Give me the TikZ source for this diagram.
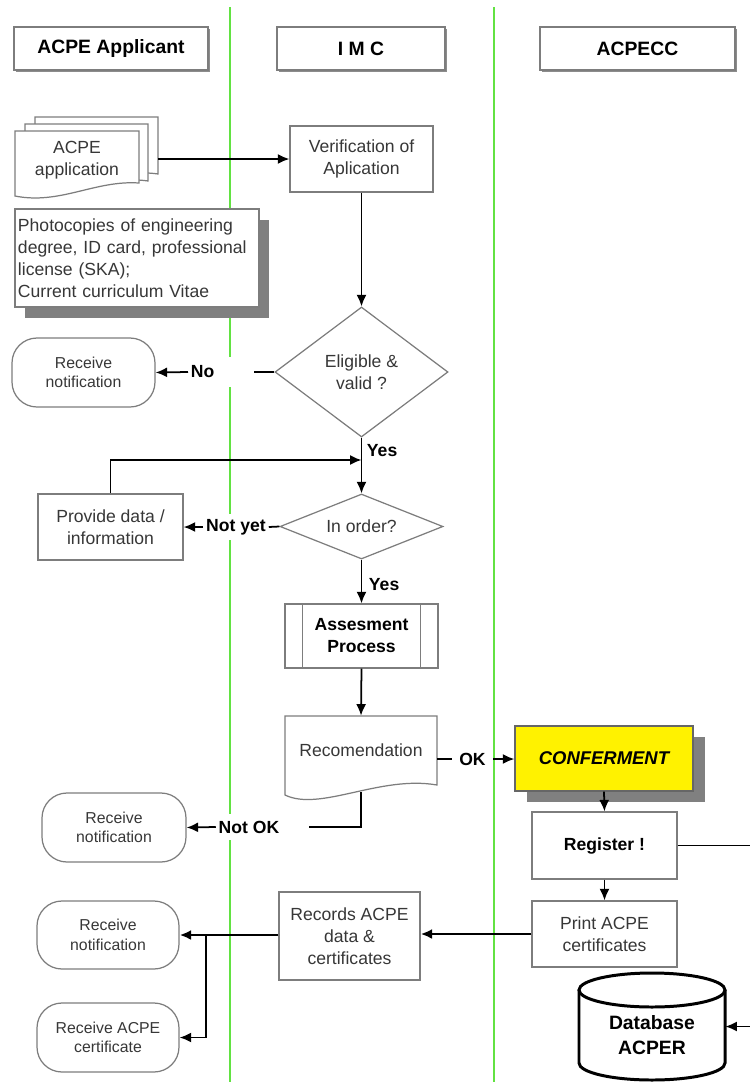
\documentclass[tikz,border=0pt]{standalone}
\usepackage{fontspec}
\setmainfont{Liberation Sans}
\usetikzlibrary{arrows.meta,shapes.geometric,shadows}

\definecolor{lanegreen}{RGB}{98,226,66}
\definecolor{edge}{RGB}{125,125,125}
\definecolor{ink}{RGB}{55,55,55}
\definecolor{shade}{RGB}{128,128,128}

\tikzset{
  sz/.style 2 args={minimum width=#1*0.2mm, minimum height=#2*0.2mm},
  base/.style={inner sep=0pt, align=center, text=ink, font=\fontsize{10}{12.5}\selectfont},
  box/.style={base, draw=edge, line width=0.7pt, fill=white},
  head/.style={box, text=black, font=\fontsize{11}{12}\selectfont\bfseries,
    drop shadow={shadow xshift=0.35mm, shadow yshift=-0.35mm, fill=black!45, opacity=1}},
  receive/.style={box, rounded corners=5mm, font=\fontsize{9}{11}\selectfont},
  decision/.style={base, diamond, draw=edge, line width=0.7pt, fill=white},
  docline/.style={draw=edge, line width=0.7pt, fill=white},
  lane/.style={draw=lanegreen, line width=1.4pt},
  lbl/.style={inner sep=1.5pt, text=black, font=\fontsize{10}{12}\selectfont\bfseries},
  conn/.style={draw=black, line width=1pt},
  arr/.style={conn, -{Latex[length=2.3mm,width=2mm]}},
  arrw/.style={arr, line width=1.5pt},
  dbline/.style={draw=black, line width=1.7pt},
}

\begin{document}
\begin{tikzpicture}[x=0.2mm,y=-0.2mm]
\useasboundingbox (0,0) rectangle (750,1082);
\fill[white] (0,0) rectangle (750,1082);

% swim lane separators
\draw[lane] (230,7) -- (230,1082);
\draw[lane] (494,7) -- (494,1082);

% lane headers
\node[head, sz={194}{43}] (hA) at (111,48.5) {ACPE Applicant};
\node[head, sz={168}{43}] (hI) at (361,48.5) {I M C};
\node[head, sz={195}{43}] (hC) at (637.5,48.5) {ACPECC};

% stack of application forms
\draw[docline] (35,117) -- (158,117) -- (158,174) .. controls (120,168) and (80,190) .. (35,182) -- cycle;
\draw[docline] (25,124) -- (148,124) -- (148,181) .. controls (110,175) and (70,197) .. (25,189) -- cycle;
\draw[docline] (15,131) -- (139,131) -- (139,183) .. controls (95,180) and (60,205) .. (15,196) -- cycle;
\node[base] (app) at (77,160) {ACPE\\application};
\coordinate (stackR) at (158,160);

\node[box, sz={244}{98}, inner xsep=0.6mm, text width=47.6mm, align=left,
  drop shadow={shadow xshift=2mm, shadow yshift=-2.2mm, fill=shade, opacity=1}]
  (photo) at (137,258) {Photocopies of engineering\\degree, ID card, professional\\license (SKA);\\Current curriculum Vitae};

% IMC checks
\node[box, sz={143}{66}] (verif) at (361.5,159) {Verification of\\Aplication};
\draw[arr] (stackR |- verif.west) -- (verif.west);

\node[decision, sz={173}{130}, aspect=1.33] (eli) at (361.5,372) {Eligible \&\\valid ?};
\draw[arr] (verif.south) -- (eli.north);

\node[receive, sz={143}{69}] (rn1) at (83.5,372.5) {Receive\\notification};
\node[lbl, fill=white, minimum height=30*0.2mm, text width=12mm, anchor=west] (no) at (188,372) {No};
\draw[conn] (eli.west) -- (no.east);
\draw[arr] (no.west) -- (rn1.east);

\node[lbl, anchor=west] (y1) at (364,451) {Yes};

\node[decision, sz={163}{65}, aspect=2.5] (ord) at (361.5,526.5) {In order?};
\draw[arr] (eli.south) -- (ord.north);

\node[box, sz={145}{66}] (prov) at (110.5,527) {Provide data /\\information};
\node[lbl, fill=white, minimum height=26*0.2mm] (ny) at (236,527) {Not yet};
\draw[conn] (ord.west) -- (ny.east);
\draw[arr] (ny.west) -- (prov.east);
\coordinate (loopin) at (361.5,460);
\draw[arr] (prov.north) |- (loopin);

\node[lbl, anchor=west] (y2) at (366,585) {Yes};

\node[box, sz={153}{64}, text=black, font=\fontsize{10}{12.5}\selectfont\bfseries] (ass) at (361.5,636) {Assesment\\Process};
\draw[draw=edge, line width=0.7pt] ([xshift=3.6mm]ass.north west) -- ([xshift=3.6mm]ass.south west);
\draw[draw=edge, line width=0.7pt] ([xshift=-3.6mm]ass.north east) -- ([xshift=-3.6mm]ass.south east);
\draw[arr] (ord.south) -- (ass.north);

% recommendation document
\draw[docline] (285,716) -- (437,716) -- (437,785) .. controls (380,775) and (320,812) .. (285,795) -- cycle;
\node[base, sz={152}{69}] (rec) at (361,750.5) {Recomendation};
\draw[arr] (ass.south) -- (rec.north);

\node[lbl, minimum width=41*0.2mm] (ok) at (472.5,759) {OK};
\draw[conn] (rec.east |- ok.west) -- (ok.west);

\node[receive, sz={144}{69}] (rn2) at (114,827.5) {Receive\\notification};
\node[lbl, fill=white, minimum height=26*0.2mm] (nok) at (249,827) {Not OK};
\coordinate (recbot) at (361,792);
\coordinate (nokstub) at (309,827);
\draw[conn] (recbot) |- (nokstub);
\draw[arr] (nok.west) -- (rn2.east);

% ACPECC actions
\node[box, fill=yellow, draw=black!60, sz={178}{65}, text=black,
  font=\fontsize{10.5}{12}\selectfont\bfseries\itshape,
  drop shadow={shadow xshift=2.4mm, shadow yshift=-2.2mm, fill=shade, opacity=1}]
  (conf) at (604,758.5) {CONFERMENT};
\draw[arr] (ok.east) -- (conf.west |- ok.east);

\node[box, sz={145}{67}, text=black, font=\fontsize{10}{12.5}\selectfont\bfseries] (reg) at (604.5,845.5) {Register !};
\draw[arr] (conf.south) -- (reg.north);

\node[box, sz={145}{66}] (print) at (604.5,934) {Print ACPE\\certificates};
\draw[arr] (reg.south) -- (print.north);

% database
\draw[dbline, fill=white] (579,990) -- (579,1063) arc[start angle=180, end angle=360, x radius=14.6mm, y radius=3.4mm] -- (725,990);
\draw[dbline] (652,990) ellipse [x radius=14.6mm, y radius=3.4mm];
\node[sz={146}{107}, inner sep=0pt] (db) at (652,1026.5) {};
\node[base, text=black, font=\fontsize{11}{14}\selectfont\bfseries] (dbt) at (652,1035) {Database\\ACPER};
\coordinate (regout) at (770,846);
\draw[arr] (reg.east) -- (reg.east -| regout) |- (db.east);

% records and final notifications
\node[box, sz={141}{88}] (recs) at (349.5,936) {Records ACPE\\data \&\\certificates};
\draw[arrw] (print.west) -- (recs.east |- print.west);

\node[receive, sz={142}{68}] (rn3) at (108,935) {Receive\\notification};
\node[receive, sz={142}{69}] (rcert) at (108,1037.5) {Receive ACPE\\certificate};
\coordinate (junc) at (206,935);
\draw[arrw] (recs.west |- rn3.east) -- (rn3.east);
\draw[arr] (junc) |- (rcert.east);
\end{tikzpicture}
\end{document}
